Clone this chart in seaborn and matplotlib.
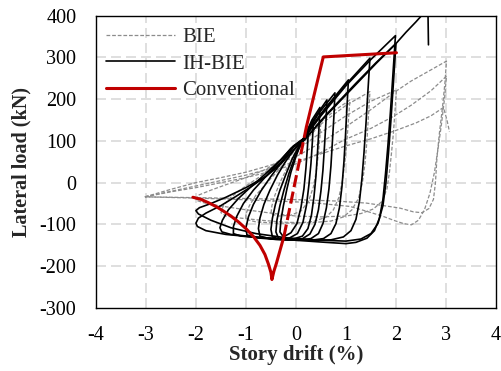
import matplotlib
matplotlib.use("Agg")
import matplotlib.pyplot as plt
from matplotlib.lines import Line2D
import pandas as pd
import seaborn as sns

# IH-BIE hysteresis cycles (drift %, load kN)
ih_c1 = [(0.15, 105), (0.25, 125), (0.23, 85), (0.2, 35), (0.16, -15), (0.1, -60), (0.02, -98), (-0.1, -120),
         (-0.25, -130), (-0.32, -118), (-0.3, -90), (-0.25, -55), (-0.18, -15), (-0.1, 25), (0.0, 62),
         (0.08, 88), (0.15, 105)]
ih_c2 = [(0.15, 105), (0.35, 150), (0.33, 100), (0.3, 45), (0.26, -5), (0.21, -55), (0.14, -95), (0.03, -122),
         (-0.15, -134), (-0.35, -133), (-0.4, -118), (-0.38, -90), (-0.32, -55), (-0.24, -18), (-0.14, 22),
         (-0.02, 62), (0.15, 105)]
ih_c3 = [(0.15, 105), (0.32, 150), (0.48, 180), (0.46, 130), (0.43, 70), (0.4, 15), (0.36, -35), (0.31, -78),
         (0.24, -110), (0.13, -128), (-0.05, -135), (-0.3, -136), (-0.47, -130), (-0.5, -112), (-0.47, -85),
         (-0.41, -52), (-0.32, -18), (-0.2, 20), (-0.07, 58), (0.05, 85), (0.15, 105)]
ih_c4 = [(0.15, 105), (0.4, 160), (0.62, 198), (0.6, 145), (0.57, 85), (0.54, 30), (0.5, -20), (0.45, -65),
         (0.38, -100), (0.28, -123), (0.12, -135), (-0.15, -137), (-0.5, -135), (-0.72, -128), (-0.75, -110),
         (-0.72, -85), (-0.64, -52), (-0.52, -18), (-0.37, 18), (-0.2, 52), (0.0, 85), (0.15, 105)]
ih_c5 = [(0.15, 105), (0.45, 165), (0.78, 215), (0.76, 160), (0.73, 100), (0.7, 40), (0.66, -15), (0.61, -60),
         (0.54, -98), (0.45, -122), (0.3, -134), (0.05, -138), (-0.4, -136), (-0.8, -132), (-0.98, -125),
         (-1.0, -108), (-0.95, -82), (-0.85, -52), (-0.7, -20), (-0.5, 15), (-0.28, 50), (-0.05, 85),
         (0.15, 105)]
ih_c6 = [(0.15, 105), (0.6, 180), (1.05, 246), (1.02, 180), (0.99, 110), (0.96, 50), (0.92, -10), (0.87, -60),
         (0.8, -98), (0.7, -122), (0.55, -134), (0.3, -138), (-0.2, -136), (-0.7, -132), (-1.1, -128),
         (-1.25, -122), (-1.25, -105), (-1.18, -80), (-1.05, -50), (-0.85, -18), (-0.6, 15), (-0.35, 48),
         (-0.1, 82), (0.15, 105)]
ih_c7 = [(0.15, 105), (0.5, 165), (1.0, 235), (1.48, 298), (1.44, 220), (1.4, 140), (1.36, 70), (1.32, 10),
         (1.27, -45), (1.2, -88), (1.1, -115), (0.95, -130), (0.7, -137), (0.3, -138), (-0.3, -135),
         (-0.9, -129), (-1.3, -124), (-1.48, -118), (-1.52, -108), (-1.47, -90), (-1.35, -65), (-1.15, -38),
         (-0.9, -10), (-0.6, 22), (-0.3, 55), (-0.05, 88), (0.15, 105)]
ih_c8 = [(0.15, 105), (0.5, 160), (1.0, 232), (1.5, 295), (1.99, 352), (1.94, 260), (1.89, 170), (1.84, 90),
         (1.79, 20), (1.74, -40), (1.67, -85), (1.57, -115), (1.42, -133), (1.2, -143), (1.0, -146),
         (0.6, -143), (0.0, -138), (-0.7, -132), (-1.4, -124), (-1.8, -115), (-1.97, -105), (-2.0, -97),
         (-1.95, -85), (-1.8, -73), (-1.5, -55), (-1.2, -33), (-0.9, -10), (-0.6, 15), (-0.3, 48),
         (-0.05, 85), (0.15, 105)]
ih_c9 = [(0.15, 100), (0.6, 160), (1.2, 235), (1.6, 285), (2.0, 333), (1.95, 240), (1.9, 150), (1.85, 70),
         (1.8, 0), (1.74, -55), (1.64, -98), (1.5, -122), (1.3, -135), (1.0, -140), (0.5, -138), (-0.2, -132),
         (-0.8, -122), (-1.3, -108), (-1.7, -90), (-1.95, -75), (-2.0, -67), (-1.93, -60), (-1.7, -50),
         (-1.4, -35), (-1.0, -12), (-0.6, 15), (-0.3, 45), (-0.05, 78), (0.15, 100)]
ih_c10 = [(0.15, 100), (0.6, 162), (1.2, 238), (1.6, 287), (2.0, 333), (2.2, 360), (2.4, 385), (2.55, 405),
          (2.64, 412), (2.65, 330)]

# BIE cycles
bie_c1 = [(0.1, 95), (0.3, 125), (0.5, 150), (0.48, 110), (0.45, 70), (0.41, 30), (0.35, -10), (0.25, -45),
          (0.1, -68), (-0.1, -78), (-0.35, -80), (-0.5, -75), (-0.48, -55), (-0.42, -30), (-0.32, 0),
          (-0.18, 35), (-0.03, 68), (0.1, 95)]
bie_c2 = [(0.1, 95), (0.5, 145), (0.8, 175), (1.08, 198), (1.05, 150), (1.02, 100), (0.98, 50), (0.93, 5),
          (0.86, -35), (0.75, -65), (0.6, -83), (0.35, -93), (0.0, -97), (-0.4, -97), (-0.8, -94), (-1.0, -88),
          (-1.0, -75), (-0.93, -55), (-0.8, -30), (-0.6, -3), (-0.35, 30), (-0.1, 65), (0.1, 95)]
bie_c3 = [(0.1, 90), (0.5, 140), (1.0, 185), (1.48, 218), (1.45, 160), (1.42, 100), (1.38, 45), (1.33, 0),
          (1.25, -38), (1.12, -65), (0.95, -82), (0.7, -92), (0.3, -96), (-0.2, -95), (-0.7, -90), (-1.1, -85),
          (-1.4, -80), (-1.5, -72), (-1.45, -55), (-1.3, -35), (-1.05, -12), (-0.75, 12), (-0.4, 45),
          (-0.1, 70), (0.1, 90)]
bie_c4 = [(0.1, 85), (0.5, 120), (1.0, 160), (1.5, 195), (2.01, 222), (1.98, 170), (1.95, 120), (1.91, 70),
          (1.87, 25), (1.82, -15), (1.72, -45), (1.55, -63), (1.3, -74), (1.0, -80), (0.5, -82), (0.0, -80),
          (-0.5, -73), (-1.0, -65), (-1.5, -56), (-1.85, -48), (-2.0, -42), (-1.95, -30), (-1.7, -18),
          (-1.4, -5), (-1.0, 12), (-0.6, 32), (-0.3, 55), (0.1, 85)]
bie_c5 = [(-3.02, -34), (-2.5, -16), (-2.0, 0), (-1.5, 12), (-1.0, 25), (-0.5, 42), (0.0, 62), (0.5, 96),
          (1.0, 134), (1.5, 175), (1.94, 214), (2.3, 243), (2.7, 270), (3.01, 291), (2.98, 240), (2.93, 180),
          (2.87, 120), (2.82, 60), (2.79, 0), (2.75, -40), (2.66, -62), (2.52, -72), (2.35, -70), (2.08, -61),
          (1.75, -55), (1.41, -49), (0.8, -44), (0.08, -41), (-1.0, -38), (-2.0, -36), (-3.02, -34)]
bie_c6 = [(-3.02, -34), (-2.5, -22), (-2.0, -12), (-1.5, 0), (-1.0, 12), (-0.5, 27), (0.0, 45), (0.5, 72),
          (0.96, 102), (1.5, 130), (1.94, 158), (2.3, 185), (2.7, 220), (3.01, 255), (2.97, 200), (2.91, 140),
          (2.84, 80), (2.77, 25), (2.68, -25), (2.57, -65), (2.45, -90), (2.31, -101), (2.15, -98),
          (1.95, -90), (1.75, -81), (1.4, -68), (1.08, -57), (0.5, -50), (0.0, -46), (-1.0, -41), (-2.0, -37),
          (-3.02, -34)]
bie_c7 = [(-3.02, -34), (-2.0, -8), (-1.0, 18), (0.0, 50), (1.0, 88), (1.5, 105), (2.0, 125), (2.4, 143),
          (2.7, 160), (2.95, 180), (3.02, 150), (3.07, 122)]

# Conventional specimen
conv_drift = [-2.06, -1.9, -1.75, -1.6, -1.45, -1.3, -1.15, -1.0, -0.85, -0.72, -0.62, -0.55, -0.5, -0.48,
              -0.44, -0.39, -0.32, -0.24, 0.21, 0.547, 2.01]
conv_load = [-35, -40, -48, -57, -68, -80, -94, -110, -129, -150, -172, -195, -215, -232,
             -212, -193, -163, -129, 134, 301, 311]

ih_cycles = [ih_c1, ih_c2, ih_c3, ih_c4, ih_c5, ih_c6, ih_c7, ih_c8, ih_c9, ih_c10]
bie_cycles = [bie_c1, bie_c2, bie_c3, bie_c4, bie_c5, bie_c6, bie_c7]


def to_frame(cycles):
    rows = []
    for i, cyc in enumerate(cycles):
        for x, y in cyc:
            rows.append({"drift": x, "load": y, "cycle": i})
    return pd.DataFrame(rows)


df_ih = to_frame(ih_cycles)
df_bie = to_frame(bie_cycles)
df_conv = pd.DataFrame({"drift": conv_drift, "load": conv_load})

sns.set_style("white")
plt.rcParams["font.family"] = ["Liberation Serif", "DejaVu Serif"]
plt.rcParams["axes.unicode_minus"] = False

fig = plt.figure(figsize=(5.02, 3.71), dpi=100)
ax = fig.add_axes([0.191, 0.170, 0.797, 0.788])

grid_kw = dict(color="#d9d9d9", lw=1.2, ls=(0, (6, 3)), zorder=0)
for gx in range(-3, 4):
    ax.axvline(gx, **grid_kw)
for gy in range(-200, 400, 100):
    ax.axhline(gy, **grid_kw)

sns.lineplot(data=df_bie, x="drift", y="load", units="cycle", estimator=None, sort=False,
             color="#8c8c8c", lw=0.9, ls=(0, (3, 1.5)), ax=ax, legend=False)
sns.lineplot(data=df_ih, x="drift", y="load", units="cycle", estimator=None, sort=False,
             color="black", lw=1.2, ax=ax, legend=False)

red = "#c00000"
k = conv_drift.index(-0.24)
sns.lineplot(data=df_conv.iloc[:k + 1], x="drift", y="load", sort=False, estimator=None,
             color=red, lw=2.2, ax=ax, legend=False)
sns.lineplot(data=df_conv.iloc[k:k + 2], x="drift", y="load", sort=False, estimator=None,
             color=red, lw=2.2, ls=(0, (4, 1.5)), ax=ax, legend=False)
sns.lineplot(data=df_conv.iloc[k + 1:], x="drift", y="load", sort=False, estimator=None,
             color=red, lw=2.2, ax=ax, legend=False)

ax.set_xlim(-4, 4)
ax.set_ylim(-300, 400)
ax.set_xticks(range(-4, 5))
ax.set_yticks(range(-300, 401, 100))
ax.tick_params(length=0, labelsize=14.5, colors="black")
ax.tick_params(axis="x", pad=13)
ax.tick_params(axis="y", pad=14)
for s in ax.spines.values():
    s.set_color("black")
    s.set_linewidth(1.0)
ax.set_xlabel("Story drift (%)", fontsize=15, fontweight="bold", labelpad=0)
ax.set_ylabel("Lateral load (kN)", fontsize=14.5, fontweight="bold", labelpad=6)

handles = [Line2D([], [], color="#8c8c8c", lw=0.9, ls=(0, (3, 1.5))),
           Line2D([], [], color="black", lw=1.2),
           Line2D([], [], color=red, lw=2.2)]
ax.legend(handles, ["BIE", "IH-BIE", "Conventional"], loc="upper left", bbox_to_anchor=(0.025, 0.96),
          frameon=False, fontsize=15, handlelength=3.3, handletextpad=0.37, labelspacing=0.34,
          borderpad=0, borderaxespad=0)

fig.savefig("out.png", dpi=100)
